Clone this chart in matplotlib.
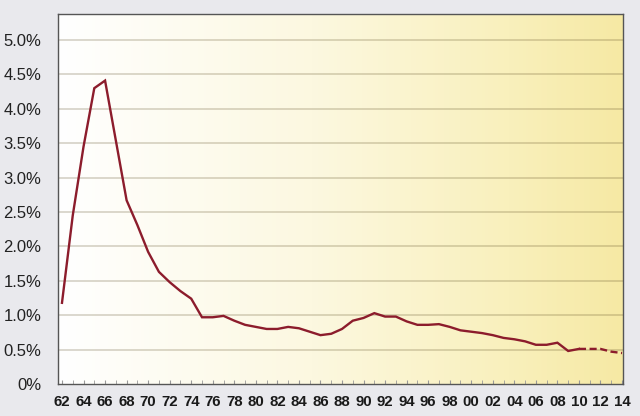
import numpy as np
import matplotlib
matplotlib.use('Agg')
import matplotlib.pyplot as plt
from matplotlib.colors import LinearSegmentedColormap
from matplotlib.ticker import MultipleLocator, FuncFormatter

# -------------------------------------------------------------------------------------
# Data
years_actual = [1962, 1963, 1964, 1965, 1966, 1967, 1968, 1969, 1970, 1971, 1972, 1973,
                1974, 1975, 1976, 1977, 1978, 1979, 1980, 1981, 1982, 1983, 1984, 1985,
                1986, 1987, 1988, 1989, 1990, 1991, 1992, 1993, 1994, 1995, 1996, 1997,
                1998, 1999, 2000, 2001, 2002, 2003, 2004, 2005, 2006, 2007, 2008, 2009,
                2010]
values_actual = [1.18, 2.45, 3.45, 4.30, 4.41, 3.54, 2.67, 2.31, 1.92, 1.63, 1.48, 1.35,
                 1.24, 0.97, 0.97, 0.99, 0.92, 0.86, 0.83, 0.80, 0.80, 0.83, 0.81, 0.76,
                 0.71, 0.73, 0.80, 0.92, 0.96, 1.03, 0.98, 0.98, 0.91, 0.86, 0.86, 0.87,
                 0.83, 0.78, 0.76, 0.74, 0.71, 0.67, 0.65, 0.62, 0.57, 0.57, 0.60, 0.48,
                 0.51]
years_forecast = [2010, 2011, 2012, 2013, 2014]
values_forecast = [0.51, 0.51, 0.51, 0.47, 0.45]

y_ticks = [0, 0.5, 1.0, 1.5, 2.0, 2.5, 3.0, 3.5, 4.0, 4.5, 5.0]
x_ticks = list(range(1962, 2015, 2))
# -------------------------------------------------------------------------------------

line_color = '#8c1c2c'

fig = plt.figure(figsize=(6.4, 4.16), dpi=100, facecolor='#e9e9ed')
ax = fig.add_axes([58 / 640, 32 / 416, 565 / 640, 370 / 416])

x_min, x_max = 1961.63, 2014.09
y_min, y_max = 0, 5.378

# horizontal gradient background
grad_cmap = LinearSegmentedColormap.from_list(
    'bg', [(0.0, '#ffffff'), (0.45, '#fcf8e0'), (0.8, '#f9f0bc'), (1.0, '#f6e9a4')])
gradient = np.linspace(0, 1, 512).reshape(1, -1)
ax.imshow(gradient, cmap=grad_cmap, aspect='auto', extent=[x_min, x_max, y_min, y_max],
          zorder=0, interpolation='bicubic')

for tick in y_ticks[1:]:
    ax.axhline(tick, color='#5a4a20', alpha=0.25, linewidth=1.2, zorder=1)

ax.plot(years_actual, values_actual, color=line_color, linewidth=1.7, zorder=3,
        solid_joinstyle='miter')
ax.plot(years_forecast, values_forecast, color=line_color, linewidth=1.7, zorder=3,
        linestyle=(0, (3, 1.5)))

ax.set_xlim(x_min, x_max)
ax.set_ylim(y_min, y_max)

ax.set_yticks(y_ticks)
ax.yaxis.set_major_formatter(FuncFormatter(lambda v, p: '0%' if v == 0 else '%.1f%%' % v))
ax.set_xticks(x_ticks)
ax.xaxis.set_major_formatter(FuncFormatter(lambda v, p: '%02d' % (int(round(v)) % 100)))
ax.xaxis.set_minor_locator(MultipleLocator(1))

ax.tick_params(axis='y', length=0, pad=12, labelsize=12, labelcolor='#222222')
ax.tick_params(axis='x', which='both', direction='in', length=3, color='#999999',
               pad=8, labelsize=10.8, labelcolor='#1a1a1a')

for label in ax.get_yticklabels():
    label.set_fontfamily('Liberation Sans')
for label in ax.get_xticklabels():
    label.set_fontfamily('Liberation Sans')
    label.set_fontweight('bold')

for side in ['left', 'bottom', 'top', 'right']:
    ax.spines[side].set_color('#555555')
    ax.spines[side].set_linewidth(1.0)

fig.savefig('out.png', dpi=100, facecolor=fig.get_facecolor())
plt.close()
